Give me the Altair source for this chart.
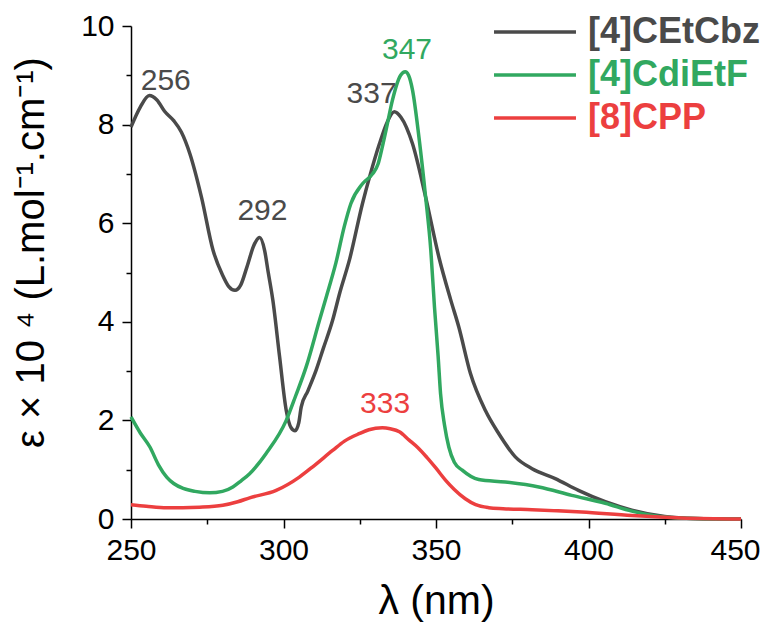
import altair as alt
import pandas as pd

series_names = ["[4]CEtCbz", "[4]CdiEtF", "[8]CPP"]
series_colors = ["#4a4a4a", "#31a860", "#ec3f3f"]

cbz_nm = [250, 253, 256, 258.5, 261, 264, 266.5, 269.3, 273.1, 276.9, 280, 282, 284.1, 286, 288,
          290.5, 292.2, 293.8, 295, 296.5, 298.7, 300.9, 302.5, 303.8, 305, 305.8, 308, 310.7, 313,
          316.1, 318.5, 321.6, 325.9, 328.5, 331.4, 334, 336.3, 338.5, 342.3, 346.6, 351, 354.8,
          357.5, 361.3, 366.2, 370.6, 376, 381.5, 389.1, 396.7, 405.5, 414.2, 425, 435, 450]
cbz_eps = [7.95, 8.35, 8.59, 8.5, 8.27, 8.08, 7.85, 7.41, 6.53, 5.45, 4.95, 4.72, 4.64, 4.75, 5.11,
           5.58, 5.71, 5.45, 5.0, 4.44, 3.3, 2.2, 1.85, 1.79, 1.95, 2.27, 2.6, 3.02, 3.45,
           4.03, 4.6, 5.25, 6.4, 7.0, 7.6, 8.05, 8.26, 8.15, 7.61, 6.53, 5.3, 4.45,
           3.89, 2.95, 2.2, 1.73, 1.26, 1.02, 0.82, 0.58, 0.35, 0.18, 0.05, 0.01, 0.0]

etf_nm = [250, 253, 256.2, 259, 261.7, 264, 267.1, 271, 275.8, 280, 283.4, 286, 288.9, 294.3,
          300.9, 304, 307.4, 311.8, 314, 317.2, 320, 322.1, 325.9, 329.2, 331, 332.4, 334, 335.7,
          338.4, 339.9, 341, 342.3, 344.4, 346.6, 348.3, 349.5, 350.7, 351.5, 352.8, 354.2, 356,
          358.6, 364, 372.7, 383.7, 394.5, 405.5, 414.2, 425, 435, 450]
etf_eps = [2.07, 1.75, 1.46, 1.1, 0.85, 0.72, 0.62, 0.56, 0.53, 0.56, 0.65, 0.77, 0.92, 1.33,
           2.0, 2.5, 3.08, 4.03, 4.5, 5.2, 5.95, 6.4, 6.8, 7.0, 7.2, 7.55, 8.0, 8.49,
           9.0, 9.07, 9.0, 8.7, 7.75, 6.53, 5.45, 4.3, 3.3, 2.54, 1.9, 1.46, 1.15,
           0.99, 0.8, 0.75, 0.65, 0.48, 0.32, 0.16, 0.04, 0.01, 0.0]

cpp_nm = [250, 255, 261.7, 267, 272.5, 280.1, 285, 288.9, 297.6, 305.2, 310, 316.1, 320, 324.8,
          328, 332.4, 335, 338, 341.2, 344, 347, 350, 353.1, 356, 359.6, 363, 367.3, 372, 381.5,
          397.8, 414.2, 430.5, 450]
cpp_eps = [0.29, 0.26, 0.23, 0.23, 0.24, 0.28, 0.35, 0.43, 0.58, 0.85, 1.08, 1.39, 1.58, 1.73,
           1.81, 1.85, 1.83, 1.77, 1.60, 1.45, 1.25, 1.03, 0.79, 0.6, 0.41, 0.29, 0.23, 0.21, 0.19,
           0.14, 0.07, 0.02, 0.0]

peak_labels = ["256", "292", "337", "347", "333"]
peak_series = ["[4]CEtCbz", "[4]CEtCbz", "[4]CEtCbz", "[4]CdiEtF", "[8]CPP"]
peak_x = [261.4, 293.1, 328.9, 340.5, 333.3]
peak_y = [8.71, 6.07, 8.43, 9.34, 2.14]

frames = []
for name, xs, ys in [(series_names[0], cbz_nm, cbz_eps),
                     (series_names[1], etf_nm, etf_eps),
                     (series_names[2], cpp_nm, cpp_eps)]:
    frames.append(pd.DataFrame({"nm": xs, "eps": ys, "series": name, "order": range(len(xs))}))
lines_df = pd.concat(frames, ignore_index=True)
labels_df = pd.DataFrame({"nm": peak_x, "eps": peak_y, "label": peak_labels, "series": peak_series})

FONT = "Liberation Sans"
color_scale = alt.Scale(domain=series_names, range=series_colors)

x_axis = alt.Axis(
    values=list(range(250, 451, 25)),
    labelExpr="datum.value % 50 === 0 ? datum.label : ''",
    tickSize={"condition": {"test": "datum.value % 50 === 0", "value": 9}, "value": 5},
    labelOffset={"condition": {"test": "datum.value === 450", "value": -6}, "value": 0},
    labelPadding=7,
    labelFlush=False,
    title="λ (nm)",
    titleFontSize=41,
    titleFontWeight="normal",
    titleBaseline="alphabetic",
    titleY=94,
)
y_axis = alt.Axis(
    values=list(range(0, 11)),
    labelExpr="datum.value % 2 === 0 ? datum.label : ''",
    tickSize={"condition": {"test": "datum.value % 2 === 0", "value": 9}, "value": 5},
    labelPadding=8,
    labelFlush=False,
    title="ε × 10 ⁴ (L.mol⁻¹.cm⁻¹)",
    titleFontSize=40,
    titleFontWeight="normal",
    titleX=-80,
    titleY=226,
)

lines = alt.Chart(lines_df).mark_line(strokeWidth=3.5, interpolate="monotone").encode(
    x=alt.X("nm:Q", scale=alt.Scale(domain=[250, 450], nice=False), axis=x_axis),
    y=alt.Y("eps:Q", scale=alt.Scale(domain=[0, 10], nice=False), axis=y_axis),
    color=alt.Color(
        "series:N",
        scale=color_scale,
        sort=series_names,
        legend=alt.Legend(
            title=None,
            orient="none",
            legendX=386,
            legendY=-12,
            symbolType="M-4,0H4",
            symbolSize=420,
            symbolStrokeWidth=3.5,
            labelFont=FONT,
            labelFontSize=36,
            labelFontWeight="bold",
            labelOffset=35,
            labelLimit=400,
            labelColor=alt.ExprRef(
                "datum.value === '[4]CEtCbz' ? '#4a4a4a' : (datum.value === '[4]CdiEtF' ? '#31a860' : '#ec3f3f')"
            ),
            rowPadding=7,
            padding=0,
        ),
    ),
    order="order:Q",
)

texts = alt.Chart(labels_df).mark_text(
    font=FONT, fontSize=30, baseline="alphabetic", align="center"
).encode(
    x="nm:Q",
    y="eps:Q",
    text="label:N",
    color=alt.Color("series:N", scale=color_scale, legend=None),
)

chart = alt.layer(lines, texts).properties(
    width=610,
    height=493,
    autosize=alt.AutoSizeParams(type="none"),
    padding={"left": 123, "top": 18, "right": 19, "bottom": 103},
).configure_view(stroke=None).configure_axis(
    grid=False,
    domainColor="black",
    domainWidth=1.5,
    tickColor="black",
    tickWidth=1.5,
    labelFont=FONT,
    labelFontSize=30,
    labelColor="black",
    titleFont=FONT,
    titleColor="black",
)

chart.save("out.html", embed_options={"renderer": "svg", "actions": False})
